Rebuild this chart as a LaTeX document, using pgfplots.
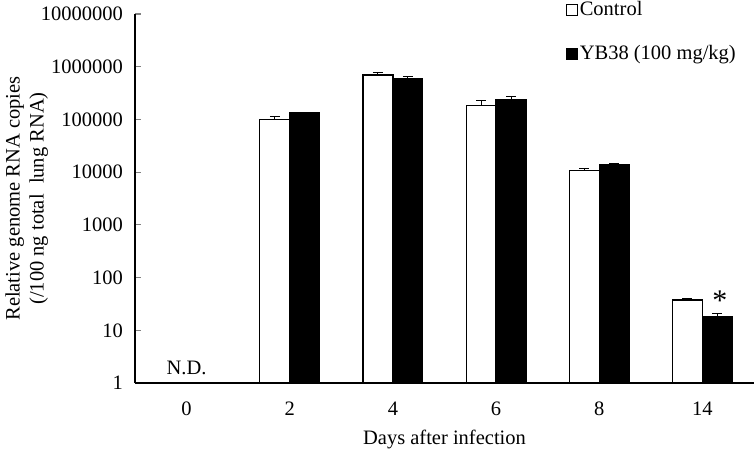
\documentclass[border=0pt]{standalone}
\usepackage{pgfplots}
\pgfplotsset{compat=1.18}
\usepackage{fontspec}
\setmainfont{Liberation Serif}
\begin{document}
\fontsize{20.5bp}{24bp}\selectfont
\begin{tikzpicture}
\begin{axis}[
  scale only axis, width=619bp, height=369bp,
  ymode=log, ymin=1, ymax=1e7,
  xmin=-0.5, xmax=5.5,
  axis x line=bottom, axis y line=left,
  axis line style={-, line width=1.2pt},
  xtick={0,1,2,3,4,5}, xticklabels={0,2,4,6,8,14},
  xtick style={draw=none},
  ytick={1,10,100,1000,10000,100000,1000000,10000000},
  yticklabels={1,10,100,1000,10000,100000,1000000,10000000},
  minor tick length=0pt,
  tick align=inside, major tick length=6bp,
  ytick style={line width=1.2pt},
  yticklabel style={xshift=-5bp},
  xticklabel style={yshift=-6bp},
  ylabel={Relative genome RNA copies\\(/100 ng total\ \ lung RNA)},
  ylabel style={align=center},
  ylabel shift=-21bp,
  xlabel={Days after infection},
  ybar=0pt, bar width=0.29,
  clip=false,
  legend cell align=left,
  legend style={draw=none, fill=none, at={(rel axis cs:0.696,1.04)}, anchor=north west,
    row sep=23bp, inner sep=0pt, font=\fontsize{20.5bp}{24bp}\selectfont},
  error bars/y dir=plus, error bars/y explicit,
  error bars/error mark options={rotate=90, mark size=5bp, line width=1pt, black},
  error bars/error bar style={line width=1pt, black},
]
\addplot[draw=black, fill=white, line width=1.2pt,
  legend image code/.code={\draw[black, fill=white, line width=0.8pt] (0bp,-5.5bp) rectangle (11bp,5.5bp);}]
  coordinates {
  (1,98000) +- (0,15000)
  (2,698000) +- (0,75000)
  (3,186000) +- (0,39000)
  (4,10700) +- (0,800)
  (5,37.6) +- (0,2.9)
};
\addplot[draw=black, fill=black, line width=1.2pt,
  legend image code/.code={\draw[black, fill=black, line width=0.8pt] (0bp,-5.5bp) rectangle (11bp,5.5bp);}]
  coordinates {
  (1,134000) +- (0,3000)
  (2,594000) +- (0,66000)
  (3,240000) +- (0,32000)
  (4,14100) +- (0,800)
  (5,17.9) +- (0,2.5)
};
\legend{Control, YB38 (100 mg/kg)}
\node at (axis cs:0,1.9) {N.D.};
\node[inner sep=0pt, font=\fontsize{30bp}{30bp}\selectfont] at (axis cs:5.17,36) {*};
\coordinate (O) at (rel axis cs:0,0);
\end{axis}
\pgfresetboundingbox
\path (O) ++(-135bp,-68bp) rectangle ++(756bp,451bp);
\end{tikzpicture}
\end{document}
